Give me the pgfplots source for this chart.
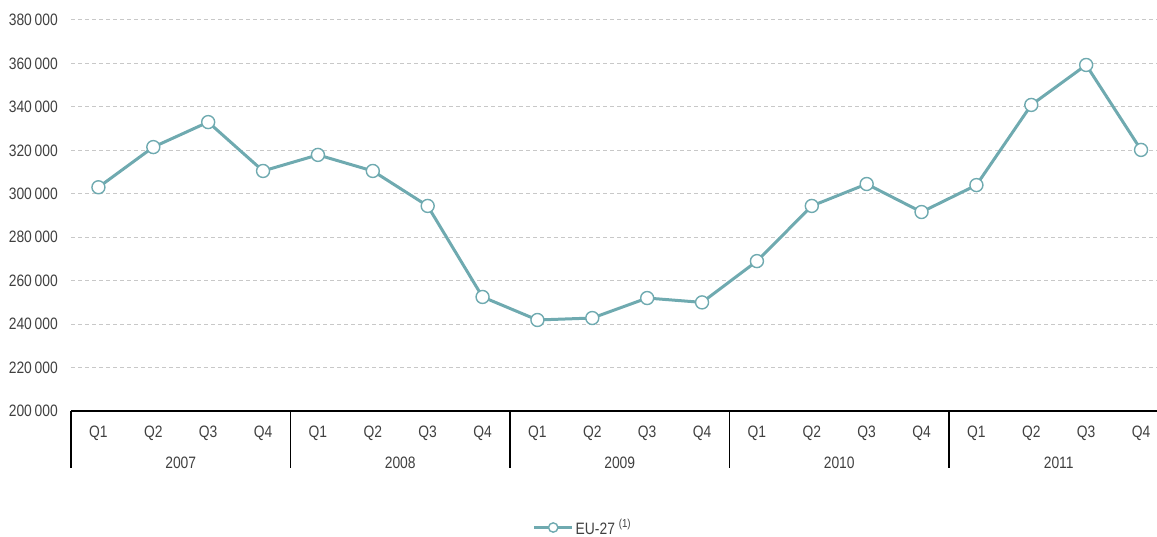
\documentclass[border=0pt]{standalone}
\usepackage{pgfplots}
\pgfplotsset{compat=1.18}
\usepackage{fontspec}
\setmainfont[FakeStretch=0.84]{Liberation Sans}
\definecolor{lineteal}{RGB}{111,170,176}
\definecolor{txt}{RGB}{64,64,64}
\definecolor{gridc}{RGB}{200,200,200}
\begin{document}
\begin{tikzpicture}[x=1pt,y=1pt]
\begin{axis}[
  at={(71pt,125pt)}, anchor=south west,
  scale only axis, width=1097.5pt, height=391pt,
  clip=false,
  xmin=-0.5, xmax=19.5, ymin=200000, ymax=380000,
  font=\fontsize{16.5}{19}\selectfont,
  ytick={200000,220000,...,380000},
  scaled y ticks=false,
  xtick={0,...,19},
  xticklabels={Q1,Q2,Q3,Q4,Q1,Q2,Q3,Q4,Q1,Q2,Q3,Q4,Q1,Q2,Q3,Q4,Q1,Q2,Q3,Q4},
  axis x line*=bottom, axis y line*=left,
  x axis line style={black, line width=1.5pt, -},
  y axis line style={draw=none},
  tick style={draw=none},
  ymajorgrids,
  major grid style={gridc, line width=1pt, dash pattern=on 4pt off 3pt},
  yticklabel style={text=txt, inner sep=0pt, anchor=east, xshift=-13pt},
  xticklabel style={text=txt, inner sep=0pt, anchor=north, yshift=-15pt},
  /pgf/number format/.cd, fixed, 1000 sep={\,}, assume math mode=true,
  /pgfplots/.cd,
  legend style={at={(0.4665,-0.298)}, anchor=center, draw=none, fill=none,
    text=txt, font=\fontsize{16.5}{19}\selectfont},
  legend image code/.code={\draw[mark repeat=2,mark phase=2,#1,every mark/.append style={scale=0.72}] plot coordinates {(0pt,0pt) (19pt,0pt) (38pt,0pt)};},
]
\addplot[lineteal, line width=3pt, mark=*, mark size=6.5pt,
  mark options={fill=white, draw=lineteal, line width=1.4pt}]
coordinates {
(0,303000) (1,321500) (2,333000) (3,310500)
(4,317900) (5,310500) (6,294400) (7,252500)
(8,241900) (9,242800) (10,252000) (11,250000)
(12,269000) (13,294400) (14,304500) (15,291600)
(16,304000) (17,340900) (18,359300) (19,320200)
};
\addlegendentry{EU-27 \textsuperscript{(1)}}
\pgfplotsinvokeforeach{-0.5,3.5,7.5,11.5,15.5}{
  \draw[black, line width=1.5pt] (axis cs:#1,200000) -- ++(0pt,-57pt);
}
\node[text=txt] at (axis cs:1.5,200000) [yshift=-52pt] {2007};
\node[text=txt] at (axis cs:5.5,200000) [yshift=-52pt] {2008};
\node[text=txt] at (axis cs:9.5,200000) [yshift=-52pt] {2009};
\node[text=txt] at (axis cs:13.5,200000) [yshift=-52pt] {2010};
\node[text=txt] at (axis cs:17.5,200000) [yshift=-52pt] {2011};
\end{axis}
\pgfresetboundingbox
\path (0pt,0pt) rectangle (1157pt,536pt);
\end{tikzpicture}
\end{document}
